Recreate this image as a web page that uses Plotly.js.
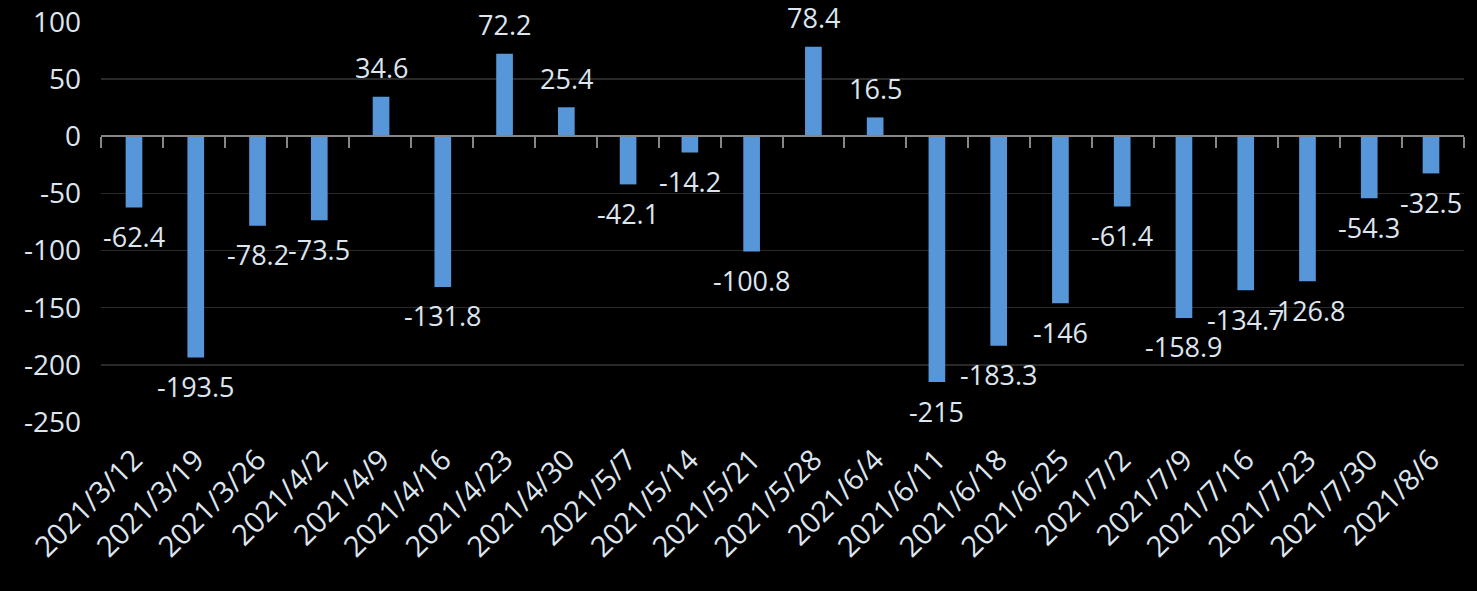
<!DOCTYPE html>
<html>
<head>
<meta charset="utf-8">
<script src="https://cdn.plot.ly/plotly-3.0.1.min.js"></script>
<style>html,body{margin:0;padding:0;background:#000;}#chart{width:1477px;height:591px;}</style>
</head>
<body>
<div id="chart"></div>
<script>
const dates = ["2021/3/12","2021/3/19","2021/3/26","2021/4/2","2021/4/9","2021/4/16","2021/4/23","2021/4/30","2021/5/7","2021/5/14","2021/5/21","2021/5/28","2021/6/4","2021/6/11","2021/6/18","2021/6/25","2021/7/2","2021/7/9","2021/7/16","2021/7/23","2021/7/30","2021/8/6"];
const values = [-62.4,-193.5,-78.2,-73.5,34.6,-131.8,72.2,25.4,-42.1,-14.2,-100.8,78.4,16.5,-215,-183.3,-146,-61.4,-158.9,-134.7,-126.8,-54.3,-32.5];
const yTicks = [100,50,0,-50,-100,-150,-200,-250];
const yTickText = ["100","50","0","-50","-100","-150","-200","-250"];

const textColor = '#dde5ef';
const fontFam = '"Open Sans", "Noto Sans", sans-serif';
const yMin = -250, yMax = 100;

const bar = {
  type: 'bar', x: dates, y: values,
  marker: {color: '#5797d9'},
  hoverinfo: 'x+y'
};
const bounds = dates.map((d,i)=>i-0.5).concat([dates.length-0.5]);
const dummy = {
  type: 'scatter', x: [-0.5, dates.length-0.5], y: [0,0], xaxis: 'x2', yaxis: 'y',
  mode: 'lines', line: {color: 'rgba(0,0,0,0)'}, hoverinfo: 'skip', showlegend: false
};

const annotations = values.map((v,i)=>({
  x: dates[i], y: v, xref: 'x', yref: 'y',
  text: String(v), showarrow: false,
  xanchor: 'center', yanchor: 'middle',
  yshift: v >= 0 ? 29 : -29,
  font: {family: fontFam, size: 27, color: textColor}
}));

const layout = {
  width: 1477, height: 591,
  paper_bgcolor: '#000', plot_bgcolor: '#000',
  margin: {l: 101, r: 13, t: 22, b: 169},
  showlegend: false,
  bargap: 0.73,
  xaxis: {
    type: 'category', showgrid: false, zeroline: false, showline: false,
    ticks: '', tickangle: -45,
    tickfont: {family: fontFam, size: 29, color: textColor},
    ticklabelstandoff: 14
  },
  xaxis2: {
    overlaying: 'x', anchor: 'free', position: (0 - yMin)/(yMax - yMin),
    range: [-0.5, dates.length-0.5], tickmode: 'array', tickvals: bounds,
    showticklabels: false, ticks: 'outside', ticklen: 11, tickwidth: 2, tickcolor: '#868686',
    showline: true, linecolor: '#868686', linewidth: 2, showgrid: false, zeroline: false
  },
  yaxis: {
    range: [yMin, yMax], tickmode: 'array', tickvals: yTicks, ticktext: yTickText,
    showgrid: true, gridcolor: '#2a2a2a', gridwidth: 1.5,
    zeroline: false, showline: false, ticks: '',
    ticklabelstandoff: 19,
    tickfont: {family: fontFam, size: 28, color: textColor}
  },
  annotations: annotations
};

Plotly.newPlot('chart', [bar, dummy], layout, {displayModeBar: false, staticPlot: true});
</script>
</body>
</html>
